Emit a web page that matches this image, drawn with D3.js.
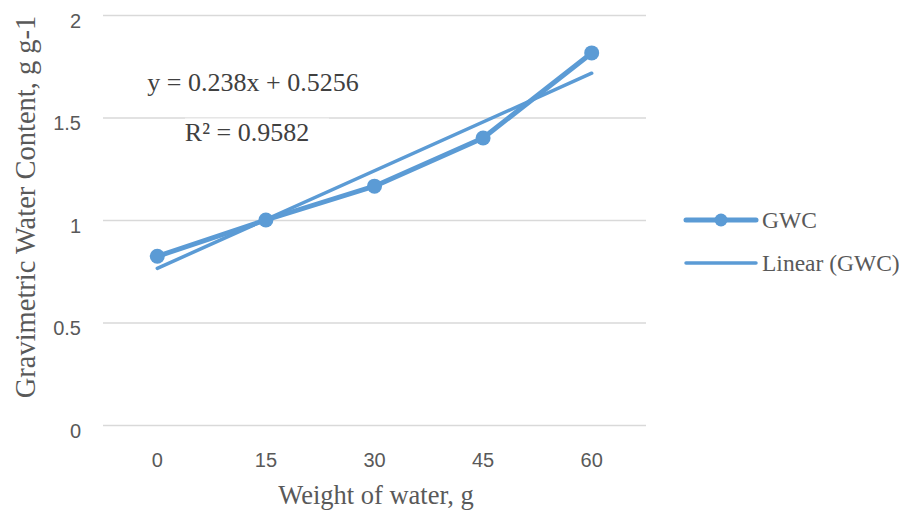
<!DOCTYPE html>
<html>
<head>
<meta charset="utf-8">
<script src="https://cdn.jsdelivr.net/npm/d3@7/dist/d3.min.js"></script>
<style>
  html, body { margin: 0; padding: 0; background: #fff; }
  svg { display: block; }
</style>
</head>
<body>
<svg id="chart" width="899" height="510"></svg>
<script>
// ---- data ----
const categories = ["0", "15", "30", "45", "60"];
const gwcValues = [0.823, 1.0, 1.165, 1.40, 1.815];
const trendValues = [0.764, 1.002, 1.240, 1.478, 1.716];
const yTicks = [0, 0.5, 1, 1.5, 2];
const seriesName = "GWC";
const trendName = "Linear (GWC)";
const equationText = "y = 0.238x + 0.5256";
const r2Text = "R² = 0.9582";
const xTitle = "Weight of water, g";
const yTitle = "Gravimetric Water Content, g g-1";

// ---- layout ----
const W = 899, H = 510;
const plot = { left: 103, right: 646, top: 15, bottom: 425 };
const color = "#5B9BD5";
const serif = "'Liberation Serif', 'Times New Roman', serif";
const sans = "'Liberation Sans', Arial, sans-serif";

const svg = d3.select("#chart");

const x = d3.scaleBand().domain(categories).range([plot.left, plot.right]).paddingInner(0).paddingOuter(0);
const cx = d => x(d) + x.bandwidth() / 2;
const y = d3.scaleLinear().domain([0, 2]).range([plot.bottom, plot.top]);

// gridlines
const yAxis = d3.axisLeft(y).tickValues(yTicks).tickSize(-(plot.right - plot.left)).tickPadding(22)
  .tickFormat(d3.format("~g"));
const gy = svg.append("g").attr("transform", `translate(${plot.left},0)`).call(yAxis);
gy.select(".domain").remove();
gy.selectAll(".tick line").attr("stroke", "#d9d9d9").attr("stroke-width", 1.5);
gy.selectAll(".tick text").attr("fill", "#595959").style("font-family", sans).style("font-size", "20px")
  .attr("dy", "0.6em");

// x axis labels
const xAxis = d3.axisBottom(x).tickSize(0).tickPadding(28);
const gx = svg.append("g").attr("transform", `translate(0,${plot.bottom})`).call(xAxis);
gx.select(".domain").remove();
gx.selectAll(".tick text").attr("fill", "#595959").style("font-family", sans).style("font-size", "20px");

// label box of equation (slightly covering the gridline)
svg.append("rect").attr("x", 185).attr("y", y(1.5) + 0.2).attr("width", 144).attr("height", 28)
  .attr("fill", "#fff").attr("opacity", 0.5);

// trendline
const trendPts = [[cx(categories[0]), y(trendValues[0])], [cx(categories[categories.length - 1]), y(trendValues[trendValues.length - 1])]];
svg.append("path").attr("d", d3.line()(trendPts)).attr("fill", "none").attr("stroke", color)
  .attr("stroke-width", 3.5).attr("stroke-linecap", "round");

// series line
const line = d3.line().x((d, i) => cx(categories[i])).y(d => y(d));
svg.append("path").datum(gwcValues).attr("d", line).attr("fill", "none").attr("stroke", color)
  .attr("stroke-width", 5).attr("stroke-linejoin", "round").attr("stroke-linecap", "round");
svg.selectAll("circle.pt").data(gwcValues).join("circle").attr("class", "pt")
  .attr("cx", (d, i) => cx(categories[i])).attr("cy", d => y(d)).attr("r", 7.5).attr("fill", color);

// equation
svg.append("text").attr("x", 253).attr("y", 91).attr("text-anchor", "middle")
  .style("font-family", serif).style("font-size", "26px").attr("fill", "#404040").text(equationText);
svg.append("text").attr("x", 247).attr("y", 141).attr("text-anchor", "middle")
  .style("font-family", serif).style("font-size", "26px").attr("fill", "#404040").text(r2Text);

// axis titles
svg.append("text").attr("x", 376).attr("y", 504).attr("text-anchor", "middle")
  .style("font-family", serif).style("font-size", "26.5px").attr("fill", "#595959").text(xTitle);
svg.append("text").attr("transform", `translate(35,207) rotate(-90)`).attr("text-anchor", "middle")
  .style("font-family", serif).style("font-size", "28.5px").attr("fill", "#595959").text(yTitle);

// legend
const lg = svg.append("g");
lg.append("line").attr("x1", 686).attr("x2", 756).attr("y1", 220).attr("y2", 220)
  .attr("stroke", color).attr("stroke-width", 5).attr("stroke-linecap", "round");
lg.append("circle").attr("cx", 721).attr("cy", 220).attr("r", 6.5).attr("fill", color);
lg.append("text").attr("x", 762).attr("y", 228).style("font-family", serif).style("font-size", "23.5px")
  .attr("fill", "#595959").text(seriesName);
lg.append("line").attr("x1", 686).attr("x2", 756).attr("y1", 263).attr("y2", 263)
  .attr("stroke", color).attr("stroke-width", 3.5).attr("stroke-linecap", "round");
lg.append("text").attr("x", 762).attr("y", 271).style("font-family", serif).style("font-size", "23.5px")
  .attr("fill", "#595959").text(trendName);
</script>
</body>
</html>
